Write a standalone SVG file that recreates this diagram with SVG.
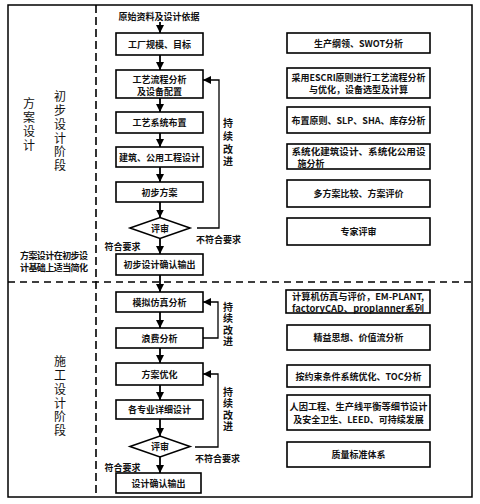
<svg xmlns="http://www.w3.org/2000/svg" width="480" height="504" viewBox="0 0 480 504">
<style>
.box{fill:#fff;stroke:#000;stroke-width:1.6}
.t{font-family:"Noto Sans CJK SC","Noto Sans",sans-serif;font-size:9px;font-weight:bold;text-anchor:middle;dominant-baseline:central;fill:#111}
.big{font-family:"Noto Sans CJK SC",sans-serif;font-size:12px;text-anchor:middle;writing-mode:vertical-rl;fill:#111}
.v{font-family:"Noto Sans CJK SC",sans-serif;font-size:10px;font-weight:bold;text-anchor:middle;writing-mode:vertical-rl;fill:#111}
.ln{fill:none;stroke:#000;stroke-width:1.8}
.fb{fill:none;stroke:#000;stroke-width:1.3}
.dash{fill:none;stroke:#000;stroke-width:1.6}
</style>
<defs>
<marker id="ah" markerUnits="userSpaceOnUse" markerWidth="10" markerHeight="10" refX="8" refY="4" orient="auto">
<path d="M0,0 L8,4 L0,8 Z" fill="#000"/>
</marker>
</defs>
<rect x="8" y="5" width="464" height="492" fill="#fff" stroke="#000" stroke-width="1.5"/>
<line class="dash" x1="96" y1="5" x2="96" y2="497" stroke-dasharray="8 4"/>
<line class="dash" x1="8" y1="282" x2="472" y2="282" stroke-dasharray="7 5"/>

<g id="left-labels">
<text class="big" x="29" y="125" letter-spacing="2">方案设计</text>
<text class="big" x="60" y="132" letter-spacing="1.7">初步设计阶段</text>
<text class="t" font-size="8"><tspan x="54" y="254.5" textLength="68" lengthAdjust="spacing">方案设计在初步设</tspan><tspan x="54" y="266.5" textLength="68" lengthAdjust="spacing">计基础上适当简化</tspan></text>
<text class="big" x="60" y="397" letter-spacing="1.7">施工设计阶段</text>
</g>

<g id="start"><text class="t" x="159" y="16">原始资料及设计依据</text></g>
<g id="n1"><rect class="box" x="116" y="33" width="87" height="22"/><text class="t" x="159.5" y="44">工厂规模、目标</text></g>
<g id="n2"><rect class="box" x="116" y="70" width="87" height="28"/><text class="t"><tspan x="159.5" y="78.5">工艺流程分析</tspan><tspan x="159.5" y="90.5">及设备配置</tspan></text></g>
<g id="n3"><rect class="box" x="116" y="112" width="87" height="21"/><text class="t" x="159.5" y="122.5">工艺系统布置</text></g>
<g id="n4"><rect class="box" x="116" y="147" width="87" height="20"/><text class="t" x="159.5" y="157">建筑、公用工程设计</text></g>
<g id="n5"><rect class="box" x="116" y="182" width="87" height="20"/><text class="t" x="159.5" y="192">初步方案</text></g>
<g id="d1"><path class="box" d="M130,228 L160,217.5 L190,228 L160,238.5 Z"/><text class="t" x="160" y="228">评审</text></g>
<g id="n6"><rect class="box" x="116" y="254" width="87" height="21"/><text class="t" x="159.5" y="264.5">初步设计确认输出</text></g>
<g id="n7"><rect class="box" x="116" y="292" width="87" height="20"/><text class="t" x="159.5" y="302">模拟仿真分析</text></g>
<g id="n8"><rect class="box" x="116" y="328" width="87" height="20"/><text class="t" x="159.5" y="338">浪费分析</text></g>
<g id="n9"><rect class="box" x="116" y="363" width="87" height="22"/><text class="t" x="159.5" y="374">方案优化</text></g>
<g id="n10"><rect class="box" x="116" y="400" width="87" height="19"/><text class="t" x="159.5" y="409.5">各专业详细设计</text></g>
<g id="d2"><path class="box" d="M130,446.5 L160,436 L190,446.5 L160,457 Z"/><text class="t" x="160" y="446.5">评审</text></g>
<g id="n11"><rect class="box" x="116" y="473" width="85" height="20"/><text class="t" x="158.5" y="483">设计确认输出</text></g>

<g id="r1"><rect class="box" x="287" y="33" width="143" height="20"/><text class="t" x="358.5" y="43">生产纲领、SWOT分析</text></g>
<g id="r2"><rect class="box" x="287" y="68" width="143" height="30"/><text class="t"><tspan x="358.5" y="77" textLength="134" lengthAdjust="spacingAndGlyphs">采用ESCRI原则进行工艺流程分析</tspan><tspan x="358.5" y="89">与优化，设备选型及计算</tspan></text></g>
<g id="r3"><rect class="box" x="287" y="107" width="143" height="26"/><text class="t" x="358.5" y="120">布置原则、SLP、SHA、库存分析</text></g>
<g id="r4"><rect class="box" x="287" y="144" width="143" height="25"/><text class="t"><tspan x="358.5" y="150.5" textLength="134" lengthAdjust="spacingAndGlyphs">系统化建筑设计、系统化公用设</tspan><tspan x="311" y="162.5">施分析</tspan></text></g>
<g id="r5"><rect class="box" x="287" y="180" width="143" height="27"/><text class="t" x="358.5" y="193.5">多方案比较、方案评价</text></g>
<g id="r6"><rect class="box" x="287" y="218" width="143" height="27"/><text class="t" x="358.5" y="231.5">专家评审</text></g>
<g id="r7"><rect class="box" x="286" y="290" width="144" height="23"/><text class="t"><tspan x="358" y="296" textLength="132" lengthAdjust="spacingAndGlyphs">计算机仿真与评价，EM-PLANT,</tspan><tspan x="358" y="308" textLength="132" lengthAdjust="spacingAndGlyphs">factoryCAD、proplanner系列</tspan></text></g>
<g id="r8"><rect class="box" x="287" y="325" width="143" height="25"/><text class="t" x="358.5" y="337.5">精益思想、价值流分析</text></g>
<g id="r9"><rect class="box" x="287" y="365" width="143" height="22"/><text class="t" x="358.5" y="376">按约束条件系统优化、TOC分析</text></g>
<g id="r10"><rect class="box" x="287" y="395" width="143" height="35"/><text class="t"><tspan x="358.5" y="405.5" textLength="138" lengthAdjust="spacingAndGlyphs">人因工程、生产线平衡等细节设计</tspan><tspan x="358.5" y="419">及安全卫生、LEED、可持续发展</tspan></text></g>
<g id="r11"><rect class="box" x="287" y="442" width="143" height="25"/><text class="t" x="358.5" y="454.5">质量标准体系</text></g>

<g id="connectors">
<line class="ln" x1="160" y1="22" x2="160" y2="33" marker-end="url(#ah)"/>
<line class="ln" x1="160" y1="55" x2="160" y2="70" marker-end="url(#ah)"/>
<line class="ln" x1="160" y1="98" x2="160" y2="112" marker-end="url(#ah)"/>
<line class="ln" x1="160" y1="133" x2="160" y2="147" marker-end="url(#ah)"/>
<line class="ln" x1="160" y1="167" x2="160" y2="182" marker-end="url(#ah)"/>
<line class="ln" x1="160" y1="202" x2="160" y2="217.5" marker-end="url(#ah)"/>
<line class="ln" x1="160" y1="238.5" x2="160" y2="254" marker-end="url(#ah)"/>
<line class="ln" x1="160" y1="275" x2="160" y2="292" marker-end="url(#ah)"/>
<line class="ln" x1="160" y1="312" x2="160" y2="328" marker-end="url(#ah)"/>
<line class="ln" x1="160" y1="348" x2="160" y2="363" marker-end="url(#ah)"/>
<line class="ln" x1="160" y1="385" x2="160" y2="400" marker-end="url(#ah)"/>
<line class="ln" x1="160" y1="419" x2="160" y2="436" marker-end="url(#ah)"/>
<line class="ln" x1="160" y1="457" x2="160" y2="473" marker-end="url(#ah)"/>
<polyline class="fb" points="197,228 219,228 219,80 203,80" marker-end="url(#ah)"/>
<polyline class="fb" points="203,338 218,338 218,302 203,302" marker-end="url(#ah)"/>
<polyline class="fb" points="195,447 218,447 218,374 203,374" marker-end="url(#ah)"/>
</g>

<g id="labels">
<text class="t" x="122.5" y="246">符合要求</text>
<text class="t" x="218.5" y="239">不符合要求</text>
<text class="t" x="122.5" y="467">符合要求</text>
<text class="t" x="217.5" y="458">不符合要求</text>
<text class="v" x="228" y="144" letter-spacing="2.7">持续改进</text>
<text class="v" x="228" y="325" letter-spacing="1.5">持续改进</text>
<text class="v" x="228" y="410" letter-spacing="1.5">持续改进</text>
</g>
</svg>
